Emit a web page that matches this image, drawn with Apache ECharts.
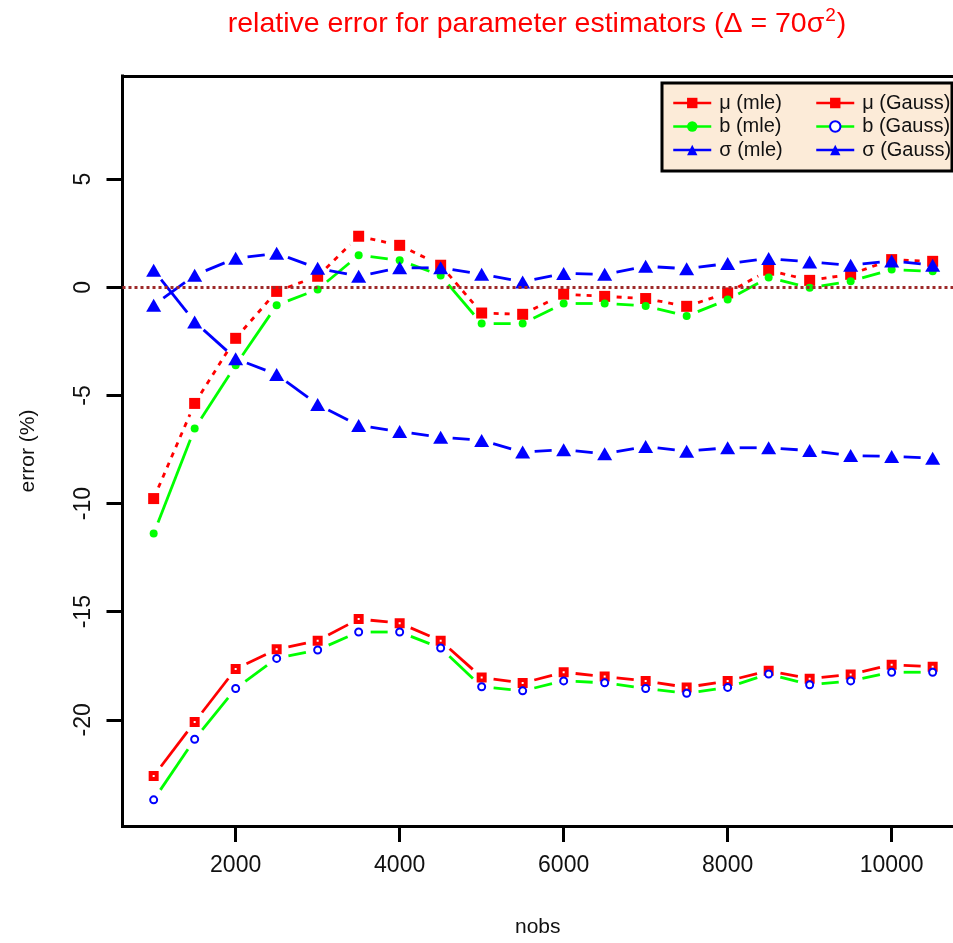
<!DOCTYPE html>
<html>
<head>
<meta charset="utf-8">
<script src="https://cdn.jsdelivr.net/npm/echarts@6/dist/echarts.min.js"></script>
<style>html,body{margin:0;padding:0;background:#fff;}#c{width:953px;height:943px;}</style>
</head>
<body>
<div id="c"></div>
<script>
// ---- data ----
const nobs = [1000,1500,2000,2500,3000,3500,4000,4500,5000,5500,6000,6500,7000,7500,8000,8500,9000,9500,10000,10500];
const muMle = [-9.77,-5.37,-2.36,-0.19,0.51,2.36,1.94,1.02,-1.19,-1.25,-0.32,-0.42,-0.52,-0.88,-0.26,0.79,0.32,0.60,1.28,1.20];
const bMle = [-11.39,-6.53,-3.60,-0.83,-0.10,1.48,1.25,0.55,-1.68,-1.68,-0.75,-0.75,-0.86,-1.33,-0.57,0.45,-0.02,0.28,0.82,0.74];
const sigmaMle = [-0.83,0.56,1.34,1.57,0.88,0.51,0.90,0.90,0.60,0.25,0.64,0.60,0.97,0.86,1.10,1.33,1.17,1.02,1.22,1.02];
const muGauss = [-22.6,-20.1,-17.65,-16.74,-16.34,-15.34,-15.53,-16.34,-18.04,-18.30,-17.80,-18.00,-18.20,-18.50,-18.20,-17.73,-18.10,-17.90,-17.45,-17.55];
const bGauss = [-23.7,-20.9,-18.55,-17.16,-16.77,-15.94,-15.94,-16.68,-18.47,-18.66,-18.20,-18.29,-18.55,-18.77,-18.50,-17.88,-18.38,-18.20,-17.80,-17.80];
const sigmaGauss = [0.79,-1.60,-3.30,-4.03,-5.42,-6.39,-6.67,-6.93,-7.08,-7.62,-7.51,-7.70,-7.36,-7.58,-7.42,-7.42,-7.55,-7.78,-7.82,-7.90];
const xTicks = [2000,4000,6000,8000,10000];
const yTicks = [-20,-15,-10,-5,0,5];
const seriesNames = ['μ (mle)','b (mle)','σ (mle)','μ (Gauss)','b (Gauss)','σ (Gauss)'];

const FONT = "'Liberation Sans', Arial, sans-serif";
const RED = '#ff0000', GREEN = '#00ff00', BLUE = '#0000ff';
const GAP = 12;
const X_MIN = 620, X_MAX = 10748, Y_MIN = -24.91, Y_MAX = 9.77;

function pairs(ys){ return nobs.map((x,i)=>[x, ys[i]]); }
function segs(ys){
  const out = [];
  for (let i=0;i<nobs.length-1;i++) out.push([nobs[i], ys[i], nobs[i+1], ys[i+1]]);
  return out;
}
function segRender(color, width, dash){
  return function(params, api){
    const p0 = api.coord([api.value(0), api.value(1)]);
    const p1 = api.coord([api.value(2), api.value(3)]);
    const dx = p1[0]-p0[0], dy = p1[1]-p0[1];
    const len = Math.hypot(dx, dy);
    if (len <= 2*GAP) return null;
    const ux = dx/len, uy = dy/len;
    return {type:'line', shape:{x1:p0[0]+ux*GAP, y1:p0[1]+uy*GAP, x2:p1[0]-ux*GAP, y2:p1[1]-uy*GAP},
            style:{stroke:color, lineWidth:width, lineDash:dash || null, lineCap:'butt'}};
  };
}
function segSeries(ys, color, dash){
  return {type:'custom', coordinateSystem:'cartesian2d', xAxisIndex:0, silent:true, z:2,
          encode:{x:[0,2], y:[1,3]}, data:segs(ys), renderItem:segRender(color, 2.8, dash)};
}
function markerSeries(name, ys, lineColor, symbol, size, itemStyle){
  return {type:'line', name:name, xAxisIndex:0, data:pairs(ys), symbol:symbol, symbolSize:size, showSymbol:true,
          lineStyle:{color:lineColor, width:2.5, opacity:0}, itemStyle:itemStyle, z:3, silent:true};
}
const squareDot = 'path://M0,0L10,0L10,10L0,10Z M4,4L4,6L6,6L6,4Z';

const series = [
  segSeries(muMle, RED, [5,6]),
  segSeries(bMle, GREEN, null),
  segSeries(sigmaMle, BLUE, null),
  segSeries(muGauss, RED, null),
  segSeries(bGauss, GREEN, null),
  segSeries(sigmaGauss, BLUE, null),
  Object.assign(markerSeries(seriesNames[0], muMle, RED, 'rect', 11, {color:RED}), {
    markLine:{silent:true, symbol:'none', label:{show:false},
      lineStyle:{color:'#9e2a2a', width:3, type:[3,3]}, data:[{yAxis:0}]}
  }),
  markerSeries(seriesNames[1], bMle, GREEN, 'circle', 8, {color:GREEN}),
  markerSeries(seriesNames[2], sigmaMle, BLUE, 'triangle', [15,13], {color:BLUE}),
  markerSeries(seriesNames[3], muGauss, RED, squareDot, 10, {color:RED}),
  markerSeries(seriesNames[4], bGauss, GREEN, 'emptyCircle', 7, {color:BLUE, borderColor:BLUE, borderWidth:2}),
  markerSeries(seriesNames[5], sigmaGauss, BLUE, 'triangle', [15,13], {color:BLUE})
];

function legendAt(left, names){
  return {orient:'vertical', left:left, top:88, itemWidth:38, itemHeight:13, itemGap:3.5,
    selectedMode:false, data:names,
    lineStyle:{type:'solid', width:2.5, opacity:1},
    textStyle:{fontFamily:FONT, fontSize:20, lineHeight:20, color:'#111', padding:[0,0,0,3]}};
}
const frameLine = {show:true, onZero:false, lineStyle:{color:'#000', width:3, cap:'square'}};

const chart = echarts.init(document.getElementById('c'), null, {renderer:'canvas'});
chart.setOption({
  animation:false,
  backgroundColor:'#ffffff',
  title:{
    text:'relative error for parameter estimators (Δ = 70σ{sup|2})',
    left:532, textAlign:'center', top:1,
    textStyle:{fontFamily:FONT, fontSize:28.5, fontWeight:'normal', color:RED, lineHeight:36,
      rich:{sup:{fontFamily:FONT, fontSize:19, color:RED, verticalAlign:'top', lineHeight:36, padding:[0,1,16,1]}}}
  },
  grid:{left:122.5, top:76, right:0, height:750.5, show:false},
  xAxis:[{type:'value', min:X_MIN, max:X_MAX,
    name:'nobs', nameLocation:'middle', nameGap:91,
    nameTextStyle:{fontFamily:FONT, fontSize:21, color:'#111'},
    axisLine:frameLine, splitLine:{show:false},
    axisTick:{show:true, length:16, customValues:xTicks, lineStyle:{color:'#000', width:3}},
    axisLabel:{customValues:xTicks, margin:28, fontFamily:FONT, fontSize:23, color:'#111',
      formatter:function(v){ return String(v); }}},
    {type:'value', position:'top', min:X_MIN, max:X_MAX,
    axisLine:frameLine, splitLine:{show:false}, axisTick:{show:false}, axisLabel:{show:false}}],
  yAxis:{type:'value', min:Y_MIN, max:Y_MAX,
    name:'error (%)', nameLocation:'middle', nameGap:84,
    nameTextStyle:{fontFamily:FONT, fontSize:21, color:'#111'},
    axisLine:frameLine, splitLine:{show:false},
    axisTick:{show:true, length:16, customValues:yTicks, lineStyle:{color:'#000', width:3}},
    axisLabel:{customValues:yTicks, rotate:90, margin:27, fontFamily:FONT, fontSize:23, color:'#111',
      formatter:function(v){ return String(v); }}},
  legend:[legendAt(667, seriesNames.slice(0,3)), legendAt(810, seriesNames.slice(3))],
  graphic:{elements:[{type:'rect', z:3, silent:true,
    shape:{x:662, y:83, width:290, height:88},
    style:{fill:'#fcebd8', stroke:'#000', lineWidth:3}}]},
  series:series
});
</script>
</body>
</html>
